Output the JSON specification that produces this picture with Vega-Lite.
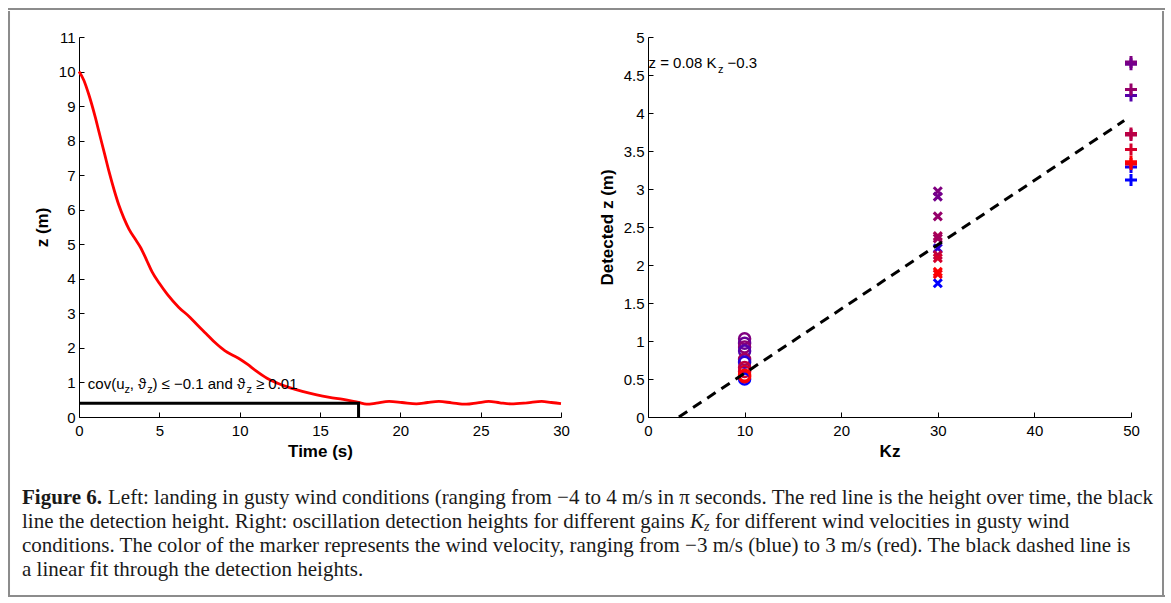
{
  "$schema": "https://vega.github.io/schema/vega-lite/v6.json",
  "background": "white",
  "padding": {"left": 8, "top": 8, "right": 0, "bottom": 0},
  "spacing": 0,
  "datasets": {
    "blank": [],
    "curve": [
      {"t": 0, "z": 10.0}, {"t": 0.3, "z": 9.75}, {"t": 0.62, "z": 9.32}, {"t": 1.0, "z": 8.7},
      {"t": 1.24, "z": 8.26}, {"t": 1.6, "z": 7.6}, {"t": 1.87, "z": 7.1}, {"t": 2.2, "z": 6.55},
      {"t": 2.49, "z": 6.12}, {"t": 2.8, "z": 5.75}, {"t": 3.11, "z": 5.44}, {"t": 3.5, "z": 5.15},
      {"t": 3.84, "z": 4.9}, {"t": 4.2, "z": 4.55}, {"t": 4.55, "z": 4.2}, {"t": 5.0, "z": 3.87},
      {"t": 5.5, "z": 3.55}, {"t": 6.2, "z": 3.18}, {"t": 6.9, "z": 2.89}, {"t": 7.4, "z": 2.65},
      {"t": 7.9, "z": 2.42}, {"t": 8.5, "z": 2.14}, {"t": 9.07, "z": 1.92}, {"t": 9.6, "z": 1.78},
      {"t": 10.0, "z": 1.68}, {"t": 10.5, "z": 1.52}, {"t": 11.0, "z": 1.34}, {"t": 11.7, "z": 1.12},
      {"t": 12.4, "z": 0.97}, {"t": 13.1, "z": 0.85}, {"t": 13.9, "z": 0.74}, {"t": 14.8, "z": 0.64},
      {"t": 15.6, "z": 0.57}, {"t": 16.45, "z": 0.51}, {"t": 17.0, "z": 0.46}, {"t": 17.4, "z": 0.42},
      {"t": 17.9, "z": 0.37}, {"t": 18.5, "z": 0.4}, {"t": 19.3, "z": 0.45}, {"t": 20.1, "z": 0.42},
      {"t": 21.0, "z": 0.38}, {"t": 21.7, "z": 0.42}, {"t": 22.4, "z": 0.45}, {"t": 23.2, "z": 0.41},
      {"t": 24.1, "z": 0.37}, {"t": 24.8, "z": 0.41}, {"t": 25.5, "z": 0.45}, {"t": 26.2, "z": 0.41},
      {"t": 26.9, "z": 0.38}, {"t": 27.9, "z": 0.41}, {"t": 28.8, "z": 0.45}, {"t": 29.4, "z": 0.42},
      {"t": 30.0, "z": 0.39}
    ],
    "detect": [
      {"t": 0, "z": 0.4, "o": 1}, {"t": 17.4, "z": 0.4, "o": 2}, {"t": 17.4, "z": 0, "o": 3}
    ],
    "annL": [
      {"t": 0.55, "z": 0.95, "s": "cov(u", "k": "m"},
      {"t": 2.83, "z": 0.77, "s": "z", "k": "s"},
      {"t": 3.16, "z": 0.95, "s": ", ϑ", "k": "m"},
      {"t": 4.25, "z": 0.77, "s": "z", "k": "s"},
      {"t": 4.57, "z": 0.95, "s": ") ≤ −0.1 and ϑ", "k": "m"},
      {"t": 10.43, "z": 0.77, "s": "z", "k": "s"},
      {"t": 11.01, "z": 0.95, "s": "≥ 0.01", "k": "m"}
    ],
    "pts": [
      {"kz": 10, "z": 1.03, "v": 0, "m": "o"},
      {"kz": 10, "z": 0.97, "v": -0.5, "m": "o"},
      {"kz": 10, "z": 0.92, "v": 0.3, "m": "o"},
      {"kz": 10, "z": 0.87, "v": -1, "m": "o"},
      {"kz": 10, "z": 0.76, "v": 0.8, "m": "o"},
      {"kz": 10, "z": 0.72, "v": -2, "m": "o"},
      {"kz": 10, "z": 0.65, "v": 1.5, "m": "o"},
      {"kz": 10, "z": 0.6, "v": 2, "m": "o"},
      {"kz": 10, "z": 0.5, "v": -3, "m": "o"},
      {"kz": 10, "z": 0.53, "v": 2.5, "m": "o"},
      {"kz": 10, "z": 0.55, "v": 3, "m": "o"},
      {"kz": 30, "z": 2.97, "v": 0, "m": "x"},
      {"kz": 30, "z": 2.9, "v": -0.3, "m": "x"},
      {"kz": 30, "z": 2.64, "v": 0.5, "m": "x"},
      {"kz": 30, "z": 2.38, "v": 1, "m": "x"},
      {"kz": 30, "z": 2.35, "v": 0.8, "m": "x"},
      {"kz": 30, "z": 2.22, "v": -2, "m": "x"},
      {"kz": 30, "z": 2.13, "v": 1.5, "m": "x"},
      {"kz": 30, "z": 2.09, "v": 2, "m": "x"},
      {"kz": 30, "z": 1.76, "v": -3, "m": "x"},
      {"kz": 30, "z": 1.88, "v": 2.7, "m": "x"},
      {"kz": 30, "z": 1.91, "v": 3, "m": "x"},
      {"kz": 50, "z": 4.67, "v": 0, "m": "+"},
      {"kz": 50, "z": 4.64, "v": -0.3, "m": "+"},
      {"kz": 50, "z": 4.23, "v": -1, "m": "+"},
      {"kz": 50, "z": 4.31, "v": 0.5, "m": "+"},
      {"kz": 50, "z": 3.73, "v": 1.5, "m": "+"},
      {"kz": 50, "z": 3.71, "v": 1.3, "m": "+"},
      {"kz": 50, "z": 3.52, "v": 2, "m": "+"},
      {"kz": 50, "z": 3.12, "v": -3, "m": "+"},
      {"kz": 50, "z": 3.29, "v": -2.5, "m": "+"},
      {"kz": 50, "z": 3.33, "v": 2.7, "m": "+"},
      {"kz": 50, "z": 3.36, "v": 3, "m": "+"}
    ],
    "fit": [{"kz": 3.2, "z": 0}, {"kz": 49.3, "z": 3.9}],
    "annR": [
      {"kz": 0.05, "z": 4.66, "s": "z = 0.08 K", "k": "m"},
      {"kz": 7.24, "z": 4.56, "s": "z", "k": "s"},
      {"kz": 8.24, "z": 4.66, "s": "−0.3", "k": "m"}
    ],
    "cap": [
      {"line": 1, "seg": "bold", "s": "Figure 6."},
      {"line": 1, "seg": "a", "s": "Left: landing in gusty wind conditions (ranging from −4 to 4 m/s in π seconds. The red line is the height over time, the black"},
      {"line": 2, "seg": "p", "s": "line the detection height. Right: oscillation detection heights for different gains"},
      {"line": 2, "seg": "K", "s": "K"},
      {"line": 2, "seg": "sub", "s": "z"},
      {"line": 2, "seg": "b", "s": "for different wind velocities in gusty wind"},
      {"line": 3, "seg": "p", "s": "conditions. The color of the marker represents the wind velocity, ranging from −3 m/s (blue) to 3 m/s (red). The black dashed line is"},
      {"line": 4, "seg": "p", "s": "a linear fit through the detection heights."}
    ]
  },
  "vconcat": [
    {
      "width": 1155, "height": 0.01,
      "view": {"stroke": "#8c8c8c", "strokeWidth": 2},
      "data": {"name": "blank"}, "mark": {"type": "text"}, "encoding": {"text": {"field": "s"}}
    },
    {
      "spacing": 0,
      "hconcat": [
        {
          "width": 0.01, "height": 582,
          "view": {"stroke": "#8c8c8c", "strokeWidth": 2},
          "data": {"name": "blank"}, "mark": {"type": "text"}, "encoding": {"text": {"field": "s"}}
        },
        {
          "spacing": 27,
          "vconcat": [
            {
              "spacing": 17,
              "vconcat": [
                {
                  "width": 1, "height": 0.01,
                  "data": {"name": "blank"}, "mark": {"type": "text"}, "encoding": {"text": {"field": "s"}}
                },
                {
                  "spacing": 21,
                  "hconcat": [
                    {
                      "width": 0.01, "height": 0.01,
                      "data": {"name": "blank"}, "mark": {"type": "text"}, "encoding": {"text": {"field": "s"}}
                    },
                    {
                      "spacing": 28,
                      "hconcat": [
                        {
                          "width": 482,
                          "height": 380,
                          "encoding": {
                            "x": {"field": "t", "type": "quantitative", "scale": {"domain": [0, 30]},
                                  "axis": {"values": [0, 5, 10, 15, 20, 25, 30], "title": "Time (s)"}},
                            "y": {"field": "z", "type": "quantitative", "scale": {"domain": [0, 11]},
                                  "axis": {"values": [0, 1, 2, 3, 4, 5, 6, 7, 8, 9, 10, 11], "title": "z (m)"}}
                          },
                          "layer": [
                            {
                              "data": {"name": "curve"},
                              "mark": {"type": "line", "color": "#ff0000", "strokeWidth": 2.8, "interpolate": "monotone"}
                            },
                            {
                              "data": {"name": "detect"},
                              "mark": {"type": "line", "color": "#000000", "strokeWidth": 3},
                              "encoding": {"order": {"field": "o"}}
                            },
                            {
                              "data": {"name": "annL"},
                              "transform": [{"filter": "datum.k === 'm'"}],
                              "mark": {"type": "text", "align": "left", "baseline": "middle", "fontSize": 15, "color": "#000"},
                              "encoding": {"text": {"field": "s"}}
                            },
                            {
                              "data": {"name": "annL"},
                              "transform": [{"filter": "datum.k === 's'"}],
                              "mark": {"type": "text", "align": "left", "baseline": "middle", "fontSize": 11, "color": "#000"},
                              "encoding": {"text": {"field": "s"}}
                            }
                          ]
                        },
                        {
                          "width": 483,
                          "height": 380,
                          "encoding": {
                            "x": {"field": "kz", "type": "quantitative", "scale": {"domain": [0, 50]},
                                  "axis": {"values": [0, 10, 20, 30, 40, 50], "title": "Kz"}},
                            "y": {"field": "z", "type": "quantitative", "scale": {"domain": [0, 5]},
                                  "axis": {"values": [0, 0.5, 1, 1.5, 2, 2.5, 3, 3.5, 4, 4.5, 5], "format": "~g", "title": "Detected z (m)"}}
                          },
                          "layer": [
                            {
                              "data": {"name": "pts"},
                              "transform": [{"filter": "datum.m === 'o'"}],
                              "mark": {"type": "point", "shape": "circle", "filled": false, "size": 121, "strokeWidth": 2.5, "opacity": 1},
                              "encoding": {
                                "color": {"field": "v", "type": "quantitative", "scale": {"domain": [-3, 3], "range": ["#0000ff", "#ff0000"], "interpolate": "rgb"}, "legend": null}
                              }
                            },
                            {
                              "data": {"name": "pts"},
                              "transform": [{"filter": "datum.m === 'x'"}],
                              "mark": {"type": "point", "shape": "M-1,-1L1,1M-1,1L1,-1", "filled": false, "size": 64, "strokeWidth": 3, "opacity": 1},
                              "encoding": {
                                "color": {"field": "v", "type": "quantitative", "scale": {"domain": [-3, 3], "range": ["#0000ff", "#ff0000"], "interpolate": "rgb"}, "legend": null}
                              }
                            },
                            {
                              "data": {"name": "pts"},
                              "transform": [{"filter": "datum.m === '+'"}],
                              "mark": {"type": "point", "shape": "M-1,0H1M0,-1V1", "filled": false, "size": 144, "strokeWidth": 3, "opacity": 1},
                              "encoding": {
                                "color": {"field": "v", "type": "quantitative", "scale": {"domain": [-3, 3], "range": ["#0000ff", "#ff0000"], "interpolate": "rgb"}, "legend": null}
                              }
                            },
                            {
                              "data": {"name": "fit"},
                              "mark": {"type": "line", "color": "#000000", "strokeWidth": 3, "strokeDash": [10, 7]}
                            },
                            {
                              "data": {"name": "annR"},
                              "transform": [{"filter": "datum.k === 'm'"}],
                              "mark": {"type": "text", "align": "left", "baseline": "middle", "fontSize": 15, "color": "#000"},
                              "encoding": {"text": {"field": "s"}}
                            },
                            {
                              "data": {"name": "annR"},
                              "transform": [{"filter": "datum.k === 's'"}],
                              "mark": {"type": "text", "align": "left", "baseline": "middle", "fontSize": 11, "color": "#000"},
                              "encoding": {"text": {"field": "s"}}
                            }
                          ]
                        }
                      ]
                    }
                  ]
                }
              ]
            },
            {
              "width": 1151,
              "height": 96,
              "data": {"name": "cap"},
              "encoding": {
                "x": {"datum": 0, "type": "quantitative", "scale": {"domain": [-11, 1140]}, "axis": null},
                "y": {"field": "line", "type": "quantitative", "scale": {"domain": [0.5, 4.5], "reverse": true}, "axis": null},
                "text": {"field": "s"}
              },
              "layer": [
                {"transform": [{"filter": "datum.seg === 'bold'"}],
                 "mark": {"type": "text", "align": "left", "baseline": "middle", "font": "Liberation Serif", "fontSize": 21, "fontWeight": "bold", "color": "#1a1a1a"}},
                {"transform": [{"filter": "datum.seg === 'a'"}],
                 "mark": {"type": "text", "align": "left", "baseline": "middle", "font": "Liberation Serif", "fontSize": 21, "dx": 86, "color": "#1a1a1a"}},
                {"transform": [{"filter": "datum.seg === 'p'"}],
                 "mark": {"type": "text", "align": "left", "baseline": "middle", "font": "Liberation Serif", "fontSize": 21, "color": "#1a1a1a"}},
                {"transform": [{"filter": "datum.seg === 'K'"}],
                 "mark": {"type": "text", "align": "left", "baseline": "middle", "font": "Liberation Serif", "fontSize": 21, "fontStyle": "italic", "dx": 668, "color": "#1a1a1a"}},
                {"transform": [{"filter": "datum.seg === 'sub'"}],
                 "mark": {"type": "text", "align": "left", "baseline": "middle", "font": "Liberation Serif", "fontSize": 14, "fontStyle": "italic", "dx": 682, "dy": 5, "color": "#1a1a1a"}},
                {"transform": [{"filter": "datum.seg === 'b'"}],
                 "mark": {"type": "text", "align": "left", "baseline": "middle", "font": "Liberation Serif", "fontSize": 21, "dx": 693, "color": "#1a1a1a"}}
              ]
            }
          ]
        },
        {
          "width": 0.01, "height": 582,
          "view": {"stroke": "#8c8c8c", "strokeWidth": 2},
          "data": {"name": "blank"}, "mark": {"type": "text"}, "encoding": {"text": {"field": "s"}}
        }
      ]
    },
    {
      "width": 1155, "height": 0.01,
      "view": {"stroke": "#8c8c8c", "strokeWidth": 2},
      "data": {"name": "blank"}, "mark": {"type": "text"}, "encoding": {"text": {"field": "s"}}
    }
  ],
  "config": {
    "font": "Liberation Sans",
    "view": {"stroke": null},
    "axis": {
      "grid": false,
      "domainColor": "#000000",
      "domainWidth": 1,
      "tickColor": "#000000",
      "tickSize": -5,
      "tickWidth": 1,
      "labelPadding": 9,
      "labelFontSize": 15,
      "labelColor": "#000000",
      "labelFont": "Liberation Sans",
      "labelFlush": false,
      "labelOverlap": false,
      "titleFont": "Liberation Sans",
      "titleFontSize": 17,
      "titleFontWeight": "bold",
      "titleColor": "#000000"
    },
    "axisX": {"labelPadding": 11, "titlePadding": 5},
    "axisY": {"titlePadding": 7}
  }
}
